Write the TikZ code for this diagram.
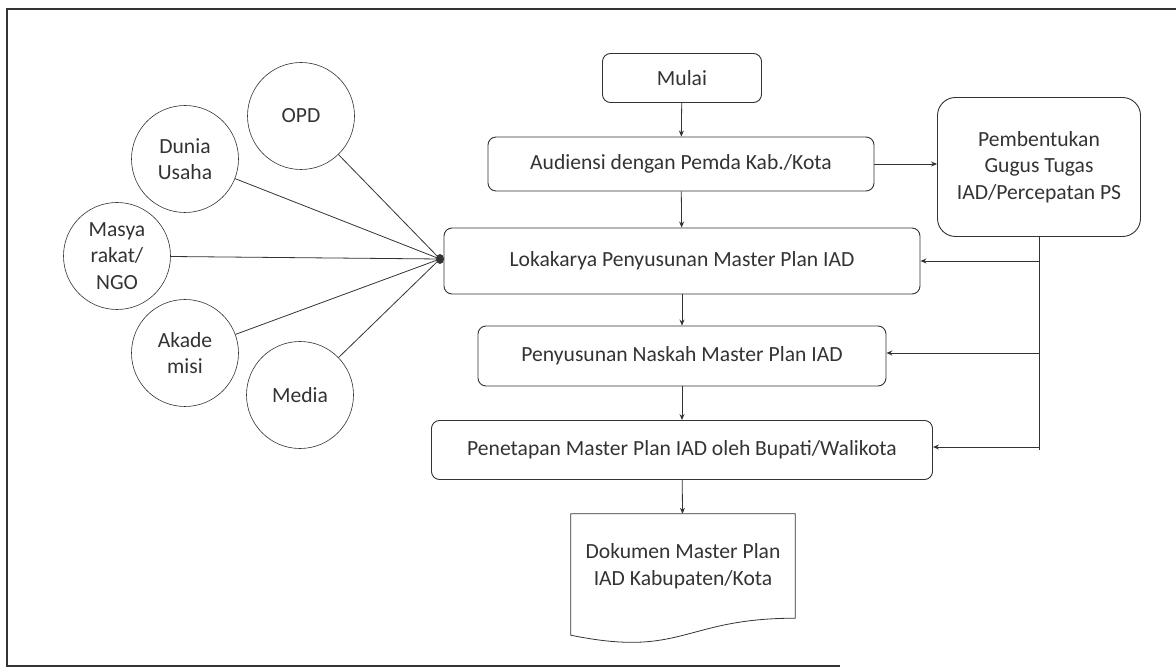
\documentclass[tikz,border=0pt]{standalone}
\usepackage{fontspec}
\setmainfont{Carlito}
\usetikzlibrary{arrows.meta}
\definecolor{ink}{HTML}{333333}
\begin{document}
\begin{tikzpicture}[x=1pt,y=-1pt,
  every node/.style={text=ink, font=\fontsize{21.6}{26.5}\selectfont, align=center},
  proc/.style={draw=ink, line width=0.9pt, rounded corners=8pt, inner sep=0pt},
  actor/.style={draw=ink, line width=0.6pt, circle, minimum size=107pt, inner sep=0pt},
  flow/.style={draw=ink, line width=0.8pt, -{Stealth[length=6pt,width=5pt]}},
  link/.style={draw=ink, line width=0.8pt}]
\useasboundingbox (0,0) rectangle (1176,668);

% frame
\draw[ink, line width=2.2pt] (1176,9) -- (7,9) -- (7,666) -- (840,666);

% process boxes
\node[proc, minimum width=159pt, minimum height=49pt] (mulai) at (682,78) {Mulai};
\node[proc, minimum width=386pt, minimum height=54pt] (aud) at (681,164) {Audiensi dengan Pemda Kab./Kota};
\node[proc, minimum width=476pt, minimum height=66pt] (loka) at (682,261) {Lokakarya Penyusunan Master Plan IAD};
\node[proc, minimum width=408pt, minimum height=60pt] (naskah) at (682,356) {Penyusunan Naskah Master Plan IAD};
\node[proc, minimum width=501pt, minimum height=59pt] (tetap) at (682,450) {Penetapan Master Plan IAD oleh Bupati/Walikota};
\node[proc, rounded corners=18pt, minimum width=203pt, minimum height=139pt] (gugus) at (1039,167)
  {Pembentukan\\Gugus Tugas\\IAD/Percepatan PS};

% output document with a wavy lower edge
\node[minimum width=224pt, minimum height=130pt, inner sep=0pt] (dok) at (683,579) {};
\draw[ink, line width=0.8pt] (dok.north west) -- (dok.north east) -- ([yshift=26pt]dok.south east)
  .. controls ([yshift=26pt]dok.south) and ([yshift=-14pt]dok.south) .. ([yshift=9pt]dok.south west) -- cycle;
\node (doktext) at (683,566) {Dokumen Master Plan\\IAD Kabupaten/Kota};

% stakeholders
\node[actor] (opd) at (301,116) {OPD};
\node[actor] (dunia) at (185,159) {Dunia\\Usaha};
\node[actor] (masy) at (117,256) {Masya\\rakat/\\NGO};
\node[actor] (akad) at (185,353) {Akade\\misi};
\node[actor] (media) at (300,395) {Media};

\coordinate (hub) at (440,259);
\foreach \s in {opd,dunia,masy,akad,media}
  \draw[link] (\s) -- (hub);
\fill[ink] (hub) ellipse (4pt and 5pt);

% main flow
\draw[flow] (mulai) -- (aud);
\draw[flow] (aud) -- (loka);
\draw[flow] (loka) -- (naskah);
\draw[flow] (naskah) -- (tetap);
\draw[flow] (tetap) -- (dok);
\draw[flow] (aud.east) -- (aud.east -| gugus.west);

% task force feeds the later steps
\coordinate (bus) at (gugus.south);
\draw[link] (bus) -- (bus |- tetap.east);
\draw[flow] (bus |- loka.east) -- (loka.east);
\draw[flow] ([yshift=3pt]naskah.east -| bus) -- ([yshift=3pt]naskah.east);
\draw[flow] ([yshift=3pt]tetap.east -| bus) -- ([yshift=3pt]tetap.east);
\end{tikzpicture}
\end{document}
